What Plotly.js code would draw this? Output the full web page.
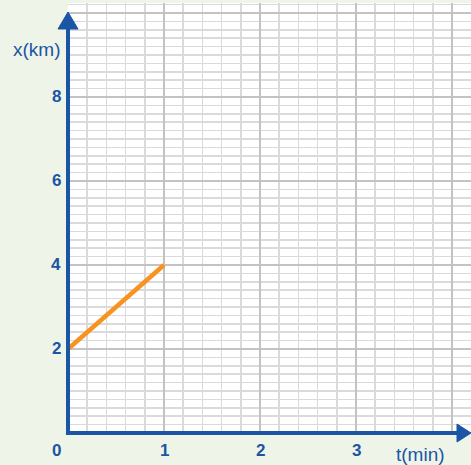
<!DOCTYPE html>
<html>
<head>
<meta charset="utf-8">
<script src="https://cdn.plot.ly/plotly-3.0.1.min.js"></script>
<style>html,body{margin:0;padding:0;background:#eef5e8;}</style>
</head>
<body>
<div id="chart" style="width:471px;height:465px;"></div>
<script>
// Data
const tValues = [0, 1];
const xValues = [2, 4];
const xTickVals = [1, 2, 3];
const xTickText = ['1', '2', '3'];
const yTickVals = [2, 4, 6, 8];
const yTickText = ['2', '4', '6', '8'];
const originLabel = '0';
const xTitle = 't(min)';
const yTitle = 'x(km)';

const BLUE = '#1b55a5';
const ORANGE = '#f7931e';
const FONT = 'Liberation Sans, Arial, sans-serif';
const tickFont = {family: FONT, size: 17, color: BLUE, weight: 'bold'};
const titleFont = {family: FONT, size: 19, color: BLUE};

const trace = {
  x: tValues, y: xValues, type: 'scatter', mode: 'lines',
  line: {color: ORANGE, width: 4.5}, hoverinfo: 'skip', cliponaxis: false
};

const annotations = [];
xTickVals.forEach((v, i) => annotations.push({
  x: v, xref: 'x', y: -0.041, yref: 'paper', text: xTickText[i], showarrow: false,
  xanchor: 'center', yanchor: 'middle', font: tickFont
}));
yTickVals.forEach((v, i) => annotations.push({
  x: -0.029, xref: 'paper', y: v, yref: 'y', text: yTickText[i], showarrow: false,
  xanchor: 'center', yanchor: 'middle', yshift: 1, font: tickFont
}));
annotations.push({x: -0.029, xref: 'paper', y: -0.041, yref: 'paper', text: originLabel, showarrow: false,
  xanchor: 'center', yanchor: 'middle', font: tickFont});
annotations.push({x: 0.875, xref: 'paper', y: -0.051, yref: 'paper', text: xTitle, showarrow: false,
  xanchor: 'center', yanchor: 'middle', font: titleFont});
annotations.push({x: -0.078, xref: 'paper', y: 0.893, yref: 'paper', text: yTitle, showarrow: false,
  xanchor: 'center', yanchor: 'middle', font: titleFont});

const W = 403, H = 430;
const shapes = [
  // y axis line
  {type: 'line', xref: 'paper', yref: 'paper', x0: 0, x1: 0, y0: -0.003, y1: 0.95, line: {color: BLUE, width: 4}},
  // x axis line
  {type: 'line', xref: 'paper', yref: 'paper', x0: -0.005, x1: 0.97, y0: 0, y1: 0, line: {color: BLUE, width: 4}},
  // y arrow head
  {type: 'path', xref: 'paper', yref: 'paper',
   path: `M ${-10/W} ${404/H} L 0 ${421/H} L ${10/W} ${404/H} Z`, fillcolor: BLUE, line: {color: BLUE, width: 1}},
  // x arrow head
  {type: 'path', xref: 'paper', yref: 'paper',
   path: `M ${389/W} ${9/H} L ${403/W} 0 L ${389/W} ${-9/H} Z`, fillcolor: BLUE, line: {color: BLUE, width: 1}}
];

const layout = {
  width: 471, height: 465,
  margin: {l: 68, r: 0, t: 3, b: 32, pad: 0, autoexpand: false},
  paper_bgcolor: '#eef5e8', plot_bgcolor: '#ffffff',
  showlegend: false,
  xaxis: {range: [0, 403/96], dtick: 1, tick0: 0, showgrid: true, gridcolor: '#c3c3c3', gridwidth: 2,
    zeroline: false, showline: false, showticklabels: false, ticks: '', fixedrange: true,
    minor: {dtick: 0.2, tick0: 0, showgrid: true, gridcolor: '#dadada', gridwidth: 1.5}},
  yaxis: {range: [0, 430/42], dtick: 2, tick0: 0, showgrid: true, gridcolor: '#c3c3c3', gridwidth: 2,
    zeroline: false, showline: false, showticklabels: false, ticks: '', fixedrange: true,
    minor: {dtick: 0.2, tick0: 0, showgrid: true, gridcolor: '#dadada', gridwidth: 1.5}},
  annotations: annotations,
  shapes: shapes
};

Plotly.newPlot('chart', [trace], layout, {displayModeBar: false, staticPlot: true});
</script>
</body>
</html>
